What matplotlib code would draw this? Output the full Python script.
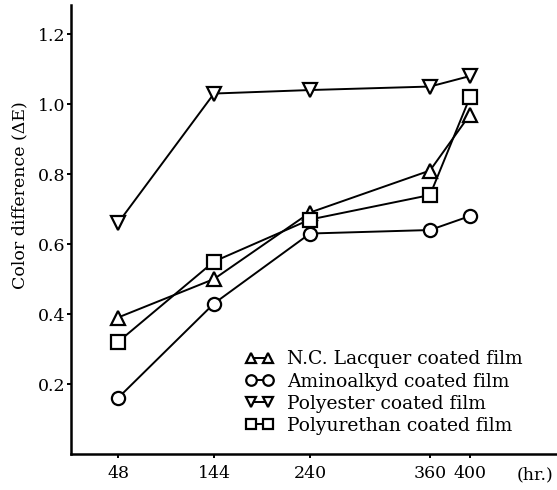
import numpy as np
import matplotlib.pyplot as plt

plt.rcParams['font.family'] = ['DejaVu Serif']

hours = [48, 144, 240, 360, 400]
lacquer = [0.39, 0.50, 0.69, 0.81, 0.97]
aminoalkyd = [0.16, 0.43, 0.63, 0.64, 0.68]
polyester = [0.66, 1.03, 1.04, 1.05, 1.08]
polyurethan = [0.32, 0.55, 0.67, 0.74, 1.02]

series = [
    (lacquer, '^', 'N.C. Lacquer coated film'),
    (aminoalkyd, 'o', 'Aminoalkyd coated film'),
    (polyester, 'v', 'Polyester coated film'),
    (polyurethan, 's', 'Polyurethan coated film'),
]

fig = plt.figure(figsize=(5.57, 4.90), dpi=100)
ax = fig.add_axes([71/557, 1 - 454/490, 1 - 71/557, 449/490])

for vals, mk, lab in series:
    ax.plot(hours, vals, color='k', lw=1.4, marker=mk, markersize=9.5,
            markerfacecolor='white', markeredgecolor='k', markeredgewidth=1.6,
            label=lab)

ax.set_xlim(1, 487)
ax.set_ylim(0, 1.283)
ax.set_xticks(hours)
ax.set_yticks([0.2, 0.4, 0.6, 0.8, 1.0, 1.2])
ax.set_yticklabels(['0.2', '0.4', '0.6', '0.8', '1.0', '1.2'])
ax.tick_params(direction='out', length=3, width=1.4, labelsize=12.5)
ax.tick_params(axis='y', pad=1)
ax.tick_params(axis='x', pad=5)
for s in ['top', 'right']:
    ax.spines[s].set_visible(False)
for s in ['left', 'bottom']:
    ax.spines[s].set_linewidth(1.8)

fig.text(20/557, 1 - 195/490, 'Color difference (ΔE)', rotation=90,
         ha='center', va='center', fontsize=12.5)
fig.text(535/557, 1 - 475/490, '(hr.)', ha='center', va='center', fontsize=12.5)

ax.legend(loc='upper left', bbox_to_anchor=(236/557, 1 - 341/490),
          bbox_transform=fig.transFigure, frameon=False, numpoints=2,
          handlelength=1.5, handletextpad=0.7, labelspacing=0.22,
          borderpad=0, markerscale=0.8, fontsize=13.5)

fig.savefig('out.png', dpi=100)
